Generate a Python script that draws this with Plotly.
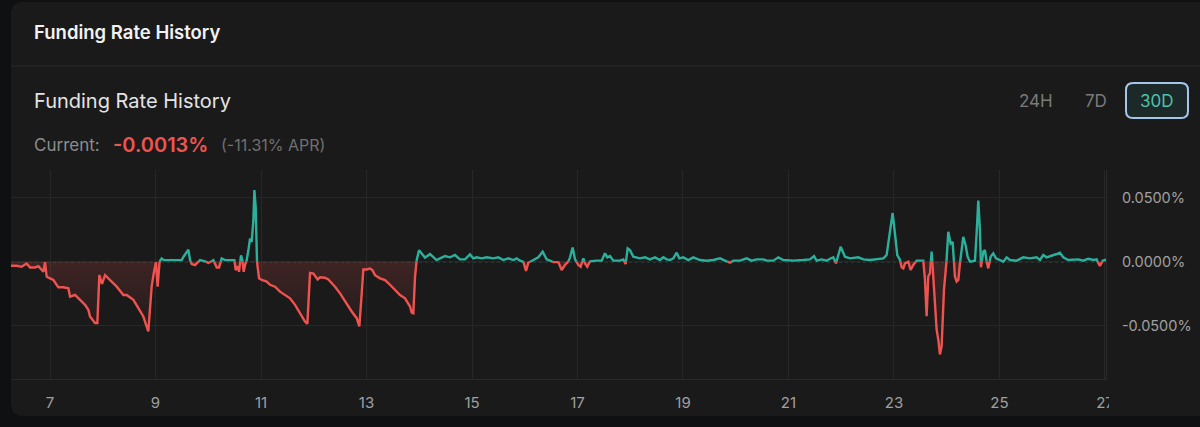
import numpy as np
import pandas as pd
import plotly.graph_objects as go

# funding rate history: day of month (fractional) and rate in %
t_day = [
    6.255, 6.368, 6.460, 6.558, 6.621, 6.716, 6.779, 6.874, 6.905, 6.937,
    7.000, 7.063, 7.158, 7.253, 7.348, 7.379, 7.474, 7.569, 7.664, 7.727,
    7.758, 7.853, 7.897, 7.935, 7.986, 8.043, 8.137, 8.264, 8.390, 8.453,
    8.580, 8.674, 8.769, 8.863, 8.927, 8.971, 9.009, 9.040, 9.072, 9.116,
    9.161, 9.496, 9.528, 9.623, 9.655, 9.686, 9.749, 9.844, 9.939, 10.002,
    10.097, 10.160, 10.204, 10.255, 10.318, 10.495, 10.520, 10.558, 10.583, 10.621,
    10.646, 10.672, 10.697, 10.728, 10.760, 10.792, 10.823, 10.855, 10.874, 10.899,
    10.924, 10.962, 11.013, 11.108, 11.171, 11.266, 11.360, 11.455, 11.550, 11.645,
    11.740, 11.834, 11.879, 11.929, 11.992, 12.074, 12.119, 12.213, 12.277, 12.403,
    12.498, 12.593, 12.719, 12.814, 12.864, 12.909, 12.940, 13.003, 13.067, 13.111,
    13.161, 13.256, 13.351, 13.446, 13.541, 13.635, 13.730, 13.825, 13.857, 13.888,
    13.920, 13.951, 13.996, 14.046, 14.109, 14.204, 14.267, 14.330, 14.393, 14.488,
    14.583, 14.678, 14.772, 14.867, 14.962, 15.025, 15.088, 15.183, 15.278, 15.404,
    15.499, 15.594, 15.689, 15.784, 15.847, 15.910, 15.973, 16.024, 16.068, 16.163,
    16.257, 16.340, 16.415, 16.542, 16.637, 16.700, 16.763, 16.826, 16.858, 16.908,
    16.953, 17.016, 17.060, 17.111, 17.142, 17.186, 17.237, 17.363, 17.458, 17.521,
    17.566, 17.616, 17.679, 17.806, 17.869, 17.913, 17.951, 17.995, 18.058, 18.185,
    18.280, 18.374, 18.469, 18.564, 18.627, 18.690, 18.754, 18.817, 18.880, 18.931,
    19.006, 19.101, 19.196, 19.322, 19.449, 19.575, 19.702, 19.796, 19.891, 19.954,
    20.081, 20.207, 20.302, 20.397, 20.523, 20.586, 20.713, 20.807, 20.902, 21.092,
    21.281, 21.408, 21.484, 21.534, 21.629, 21.724, 21.787, 21.850, 21.901, 21.989,
    22.071, 22.166, 22.324, 22.419, 22.545, 22.671, 22.798, 22.861, 22.924, 22.975,
    23.019, 23.063, 23.114, 23.145, 23.177, 23.209, 23.272, 23.316, 23.366, 23.430,
    23.556, 23.588, 23.619, 23.651, 23.683, 23.714, 23.746, 23.777, 23.809, 23.840,
    23.872, 23.904, 23.948, 23.998, 24.030, 24.074, 24.112, 24.156, 24.188, 24.220,
    24.251, 24.283, 24.314, 24.359, 24.396, 24.441, 24.536, 24.567, 24.599, 24.630,
    24.649, 24.694, 24.725, 24.757, 24.788, 24.833, 24.883, 24.934, 25.009, 25.073,
    25.136, 25.199, 25.325, 25.452, 25.578, 25.705, 25.768, 25.831, 25.894, 25.989,
    26.084, 26.147, 26.210, 26.305, 26.400, 26.495, 26.589, 26.684, 26.779, 26.842,
    26.874, 26.905, 26.956, 27.000, 27.020,
]
rate = [
    -0.0032, -0.0032, -0.0040, -0.0014, -0.0045, -0.0045, -0.0035, -0.0079, -0.0003, -0.0118,
    -0.0130, -0.0143, -0.0200, -0.0200, -0.0208, -0.0273, -0.0260, -0.0298, -0.0337, -0.0376,
    -0.0428, -0.0479, -0.0479, -0.0105, -0.0174, -0.0105, -0.0143, -0.0195, -0.0260, -0.0260,
    -0.0298, -0.0363, -0.0428, -0.0544, -0.0195, -0.0079, -0.0005, -0.0195, -0.0003, 0.0025,
    0.0012, 0.0012, 0.0037, 0.0094, 0.0012, -0.0019, -0.0027, 0.0012, 0.0003, -0.0010,
    0.0012, -0.0045, -0.0045, 0.0025, 0.0012, 0.0012, -0.0066, -0.0035, -0.0079, 0.0050,
    0.0012, -0.0079, -0.0027, 0.0012, 0.0089, 0.0180, 0.0154, 0.0322, 0.0560, 0.0425,
    0.0000, -0.0130, -0.0143, -0.0155, -0.0180, -0.0195, -0.0234, -0.0260, -0.0286, -0.0337,
    -0.0402, -0.0467, -0.0485, -0.0087, -0.0092, -0.0138, -0.0122, -0.0125, -0.0138, -0.0195,
    -0.0247, -0.0311, -0.0389, -0.0441, -0.0506, -0.0250, -0.0061, -0.0061, -0.0053, -0.0066,
    -0.0105, -0.0130, -0.0143, -0.0180, -0.0220, -0.0260, -0.0286, -0.0350, -0.0397, -0.0402,
    -0.0118, 0.0012, 0.0089, 0.0063, 0.0032, 0.0059, 0.0039, 0.0013, 0.0026, 0.0044,
    0.0034, 0.0052, 0.0018, 0.0018, 0.0057, 0.0026, 0.0034, 0.0026, 0.0034, 0.0026,
    0.0034, 0.0013, 0.0026, 0.0013, 0.0026, 0.0008, 0.0000, -0.0072, -0.0008, 0.0013,
    0.0034, 0.0078, 0.0018, -0.0003, -0.0003, -0.0065, -0.0026, 0.0000, 0.0034, 0.0110,
    0.0018, -0.0026, -0.0039, 0.0026, -0.0013, -0.0039, 0.0003, 0.0008, 0.0008, 0.0065,
    0.0034, 0.0044, 0.0008, 0.0008, 0.0018, -0.0018, 0.0103, 0.0090, 0.0039, 0.0026,
    0.0034, 0.0018, 0.0034, 0.0013, 0.0034, 0.0018, 0.0013, 0.0026, 0.0070, 0.0026,
    0.0034, 0.0013, 0.0034, 0.0013, 0.0008, 0.0013, 0.0026, 0.0008, -0.0008, 0.0008,
    0.0008, 0.0026, 0.0008, 0.0018, 0.0018, 0.0008, 0.0008, 0.0034, 0.0013, 0.0008,
    0.0013, 0.0018, 0.0044, 0.0008, 0.0018, 0.0008, 0.0023, 0.0034, -0.0013, 0.0116,
    0.0039, 0.0026, 0.0034, 0.0018, 0.0013, 0.0018, 0.0026, 0.0052, 0.0220, 0.0380,
    0.0220, 0.0052, 0.0013, -0.0044, -0.0052, -0.0013, 0.0000, -0.0065, -0.0026, 0.0008,
    0.0008, -0.0142, -0.0426, -0.0116, -0.0090, 0.0078, -0.0116, -0.0258, -0.0530, -0.0607,
    -0.0724, -0.0660, -0.0220, 0.0013, 0.0233, 0.0142, 0.0155, -0.0116, -0.0155, -0.0142,
    -0.0013, 0.0090, 0.0194, 0.0129, 0.0039, 0.0000, 0.0008, 0.0220, 0.0478, 0.0245,
    -0.0044, 0.0078, 0.0090, 0.0000, -0.0052, 0.0039, 0.0065, 0.0026, 0.0013, 0.0000,
    0.0034, 0.0013, 0.0008, 0.0034, 0.0026, 0.0034, 0.0013, 0.0052, 0.0034, 0.0044,
    0.0060, 0.0070, 0.0034, 0.0013, 0.0018, 0.0018, 0.0008, 0.0023, 0.0013, 0.0018,
    -0.0013, -0.0034, 0.0008, 0.0013, 0.0013,
]

MONTH_START = pd.Timestamp("2024-03-01")
X_RANGE_DAYS = [6.26, 27.02]
Y_RANGE = [-0.0916, 0.0716]
Y_TICKS = [-0.05, 0.0, 0.05]
Y_TICK_TEXT = ["-0.0500%", "0.0000%", "0.0500%"]
RANGE_BUTTONS = ["24H", "7D", "30D"]
CURRENT_RATE = "-0.0013%"
CURRENT_APR = "(-11.31% APR)"

GREEN = "#2bb09c"
RED = "#f0534f"
CARD = "#1a1a1a"
OUTER = "#0e1011"
GRID = "#272727"

W, H = 1200, 427
M_L, M_R, M_T, M_B = 11, 94, 170, 48


def to_time(days):
    return MONTH_START + pd.to_timedelta(np.asarray(days, dtype=float) - 1, unit="D")


def split_baseline(xs, ys):
    # insert zero crossings so the line can switch colour exactly on the baseline
    out_x, out_y = [xs[0]], [ys[0]]
    for i in range(1, len(xs)):
        x0, y0, x1, y1 = xs[i - 1], ys[i - 1], xs[i], ys[i]
        if (y0 < 0 < y1) or (y1 < 0 < y0):
            out_x.append(x0 + (x1 - x0) * (0 - y0) / (y1 - y0))
            out_y.append(0.0)
        out_x.append(x1)
        out_y.append(y1)
    return out_x, out_y


# pixel -> paper helpers for the card furniture around the plot
def px(x):
    return (x - M_L) / (W - M_L - M_R)


def py(y):
    return (H - M_B - y) / (H - M_T - M_B)


sx, sy = split_baseline(t_day, rate)
times = to_time(sx)
up = [v if v >= 0 else None for v in sy]
down = [v if v <= 0 else None for v in sy]
under = [min(v, 0.0) for v in sy]

fig = go.Figure()
fig.add_trace(go.Scatter(
    x=times, y=under, mode="lines", line=dict(width=0), fill="tozeroy",
    fillgradient=dict(type="vertical", start=-0.055, stop=0.0,
                      colorscale=[[0, "rgba(240,83,79,0.03)"], [1, "rgba(240,83,79,0.17)"]]),
    hoverinfo="skip", showlegend=False))
fig.add_trace(go.Scatter(x=times, y=down, mode="lines", line=dict(color=RED, width=2.4),
                         connectgaps=False, showlegend=False))
fig.add_trace(go.Scatter(x=times, y=up, mode="lines", line=dict(color=GREEN, width=2.4),
                         connectgaps=False, showlegend=False))

shapes = []
# card background with rounded left corners
rx, ry = 12 / (W - M_L - M_R), 12 / (H - M_T - M_B)
x0, x1, yt, yb = px(11), px(1210), py(2), py(416)
shapes.append(dict(
    type="path", xref="paper", yref="paper", layer="below", fillcolor=CARD, line=dict(width=0),
    path=(f"M {x0 + rx} {yt} L {x1} {yt} L {x1} {yb} L {x0 + rx} {yb} "
          f"Q {x0} {yb} {x0} {yb + ry} L {x0} {yt - ry} Q {x0} {yt} {x0 + rx} {yt} Z")))
# header divider
shapes.append(dict(type="line", xref="paper", yref="paper", x0=px(11), x1=px(1200),
                   y0=py(66), y1=py(66), line=dict(color="#2b2b2b", width=1), layer="below"))
# dotted baseline
shapes.append(dict(type="line", xref="paper", yref="y", x0=0, x1=1, y0=0, y1=0,
                   line=dict(color="#3fb3a0", width=1, dash="dot"), layer="between"))
# 30D selected button
bx0, bx1, by0, by1 = px(1126), px(1188), py(83), py(118)
brx, bry = 7 / (W - M_L - M_R), 7 / (H - M_T - M_B)
shapes.append(dict(
    type="path", xref="paper", yref="paper", layer="above", fillcolor="#1d2928",
    line=dict(color="#a3c6ea", width=2),
    path=(f"M {bx0 + brx} {by0} L {bx1 - brx} {by0} Q {bx1} {by0} {bx1} {by0 - bry} "
          f"L {bx1} {by1 + bry} Q {bx1} {by1} {bx1 - brx} {by1} L {bx0 + brx} {by1} "
          f"Q {bx0} {by1} {bx0} {by1 + bry} L {bx0} {by0 - bry} Q {bx0} {by0} {bx0 + brx} {by0} Z")))
# price scale panel hides the overflowing last date label
shapes.append(dict(type="rect", xref="paper", yref="paper", x0=px(1109), x1=px(1200),
                   y0=py(414), y1=py(380), fillcolor=CARD, line=dict(width=0), layer="above"))

FONT = "Inter, 'Noto Sans', sans-serif"
ann = [
    dict(text="Funding Rate History", x=px(32), y=py(32), font=dict(size=18.5, weight=600, color="#f2f2f2")),
    dict(text="Funding Rate History", x=px(32), y=py(101), font=dict(size=20, color="#e4e4e4")),
    dict(text="Current:", x=px(32), y=py(145), font=dict(size=17, color="#8c8c8c")),
    dict(text=CURRENT_RATE, x=px(111), y=py(145), font=dict(size=20, weight=600, color="#ee5450")),
    dict(text=CURRENT_APR, x=px(219), y=py(145), font=dict(size=16, color="#707070")),
    dict(text=RANGE_BUTTONS[0], x=px(1036), y=py(101), xanchor="center", font=dict(size=17, color="#7a7a7a")),
    dict(text=RANGE_BUTTONS[1], x=px(1096), y=py(101), xanchor="center", font=dict(size=17, color="#7a7a7a")),
    dict(text=RANGE_BUTTONS[2], x=px(1157), y=py(101), xanchor="center", font=dict(size=17, color="#4cc2aa")),
]
annotations = []
for a in ann:
    d = dict(xref="paper", yref="paper", showarrow=False, xanchor="left", yanchor="middle")
    d.update(a)
    d["font"] = dict(family=FONT, **a["font"])
    annotations.append(d)

fig.update_layout(
    width=W, height=H,
    margin=dict(l=M_L, r=M_R, t=M_T, b=M_B, pad=0, autoexpand=False),
    paper_bgcolor=OUTER, plot_bgcolor=CARD,
    font=dict(family=FONT, color="#9c9c9c", size=14),
    shapes=shapes, annotations=annotations, showlegend=False,
    xaxis=dict(
        type="date", range=list(to_time(X_RANGE_DAYS)), automargin=False,
        tick0=to_time([7])[0], dtick=2 * 86400000, tickformat="%-d",
        showgrid=True, gridcolor=GRID, gridwidth=1, zeroline=False,
        showline=True, linecolor="#2a2a2a", linewidth=1,
        ticks="", ticklabelstandoff=10, tickfont=dict(size=15, color="#a0a0a0"),
    ),
    yaxis=dict(
        range=Y_RANGE, side="right", tickvals=Y_TICKS, ticktext=Y_TICK_TEXT, automargin=False,
        showgrid=True, gridcolor=GRID, gridwidth=1, zeroline=False,
        showline=True, linecolor="#2a2a2a", linewidth=1,
        ticks="", ticklabelstandoff=12, tickfont=dict(size=14.5, color="#a0a0a0"),
    ),
)

fig.write_html("out.html", config={"displayModeBar": False},
               post_script="document.body.style.margin='0';")
